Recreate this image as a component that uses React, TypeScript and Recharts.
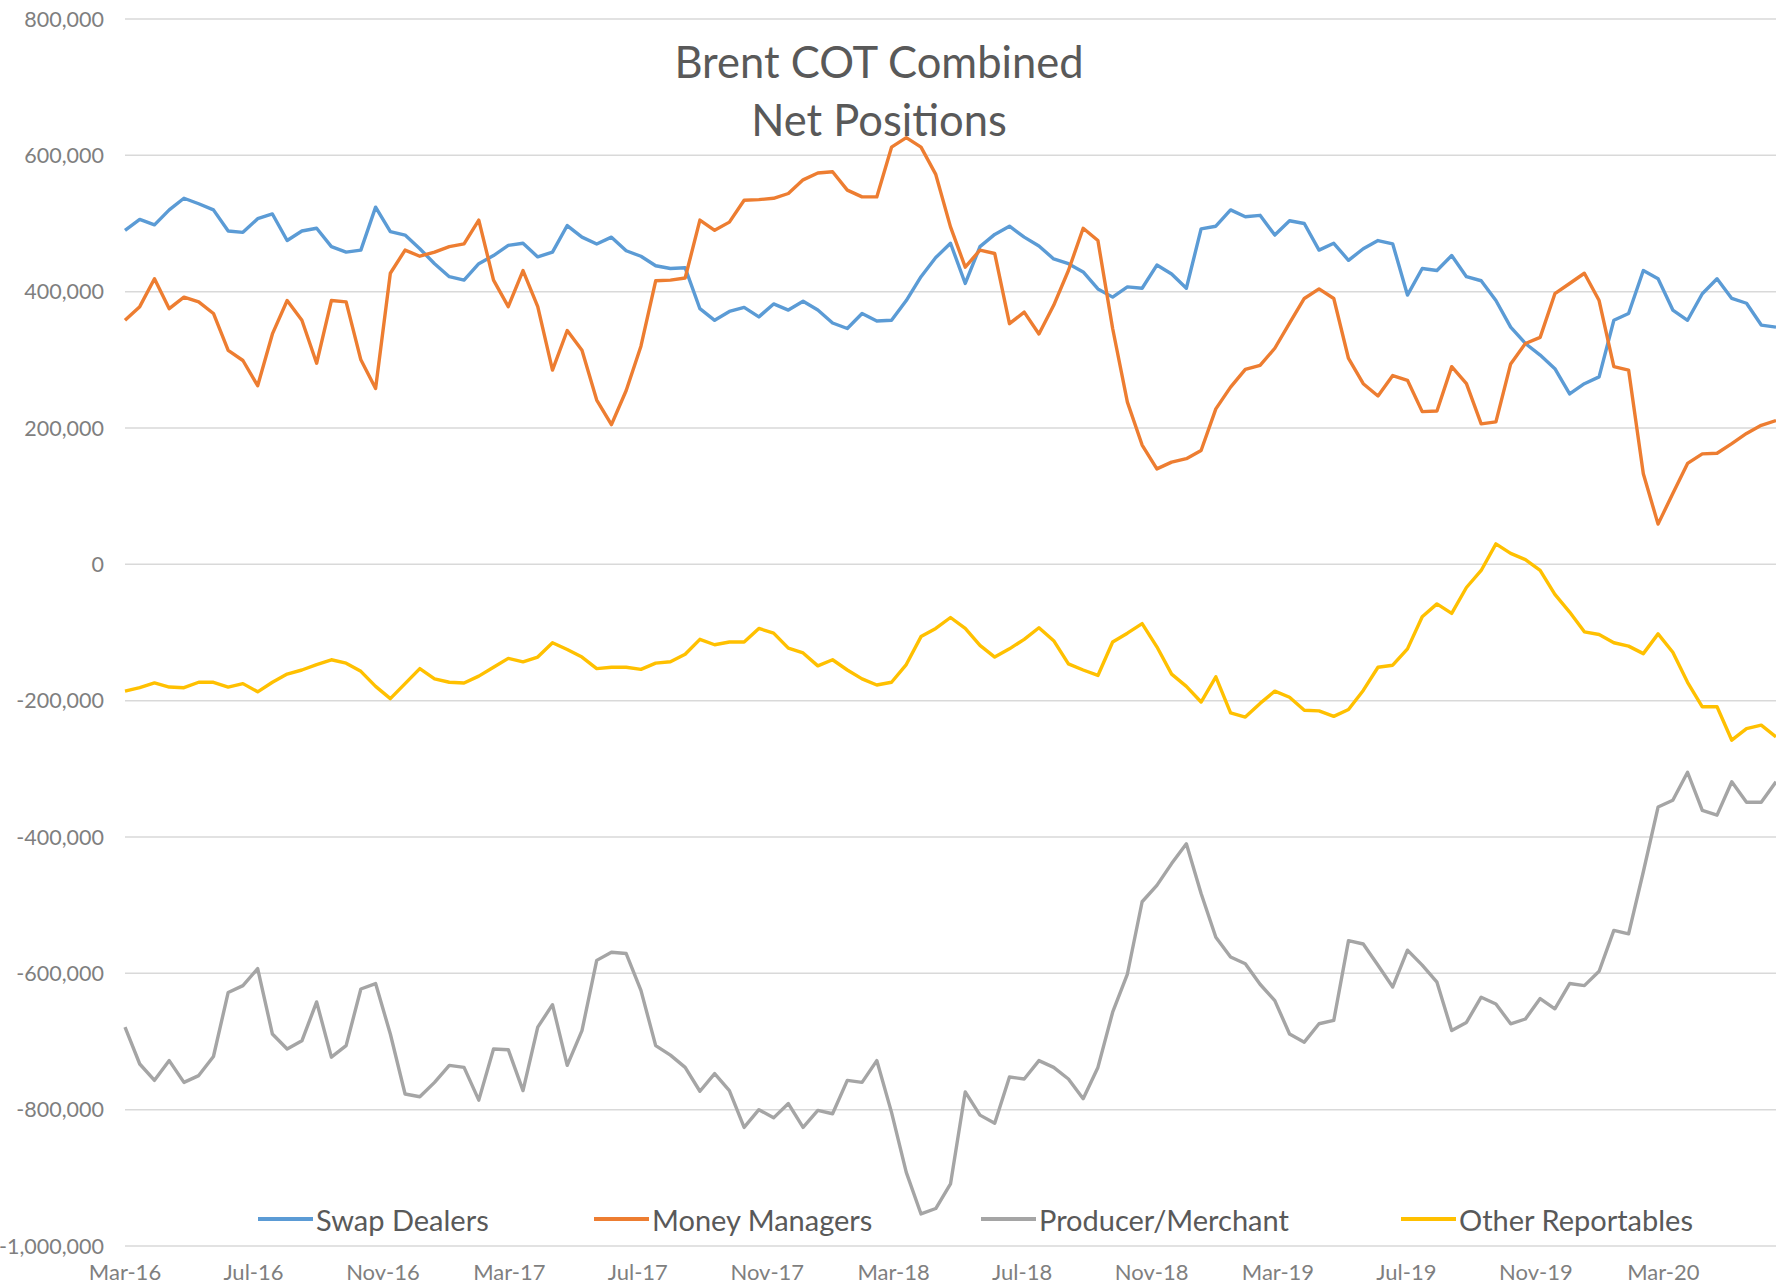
import { LineChart, Line, XAxis, YAxis, CartesianGrid } from "recharts";

// Brent COT combined net positions, thousands of contracts, sampled every 2 weeks from 1 Mar 2016
const swapDealers = [
  490, 506, 498, 520, 537, 529, 520, 489, 487, 507, 514, 475, 489, 493, 466, 458, 461, 524, 488, 483,
  463, 441, 422, 417, 441, 453, 468, 471, 451, 458, 497, 480, 470, 480, 460, 452, 438, 434, 435, 375,
  358, 371, 377, 363, 382, 373, 386, 373, 354, 346, 368, 357, 358, 387, 422, 450, 471, 412, 466, 484,
  496, 480, 467, 448, 441, 429, 404, 392, 407, 405, 439, 426, 405, 492, 496, 520, 510, 512, 483, 504,
  500, 461, 471, 446, 463, 475, 470, 395, 434, 431, 453, 422, 416, 387, 348, 324, 307, 287, 250, 265,
  275, 358, 368, 431, 419, 373, 358, 397, 419, 390, 383, 351, 348,
];

const moneyManagers = [
  358, 378, 419, 375, 392, 385, 368, 314, 299, 262, 338, 387, 358, 295, 387, 385, 300, 258, 427, 461,
  452, 458, 466, 470, 505, 417, 378, 431, 378, 285, 343, 314, 241, 205, 255, 320, 416, 417, 420, 505,
  490, 502, 534, 535, 537, 544, 564, 574, 576, 549, 539, 539, 612, 626, 612, 572, 495, 436, 461, 456,
  353, 370, 338, 380, 431, 493, 475, 346, 238, 175, 140, 150, 155, 167, 228, 260, 286, 292, 317, 354,
  390, 404, 390, 302, 265, 247, 277, 270, 224, 225, 290, 265, 206, 209, 294, 324, 333, 397, 412, 427,
  387, 290, 285, 133, 59, 104, 148, 162, 163, 177, 192, 204, 211,
];

const producerMerchant = [
  -679, -733, -757, -728, -760, -750, -722, -628, -618, -593, -689, -711, -699, -642, -723, -706, -623, -615, -689, -777,
  -781, -760, -735, -738, -786, -711, -712, -772, -679, -646, -735, -684, -581, -569, -571, -625, -706, -720, -738, -773,
  -747, -772, -826, -800, -812, -791, -826, -801, -806, -757, -760, -728, -804, -892, -953, -945, -909, -774, -808, -820,
  -752, -755, -728, -738, -755, -784, -738, -657, -601, -495, -471, -439, -410, -483, -547, -576, -586, -616, -640, -689,
  -701, -674, -669, -552, -557, -588, -620, -566, -588, -613, -684, -672, -635, -645, -674, -667, -637, -652, -615, -618,
  -597, -537, -542, -451, -356, -346, -305, -361, -368, -319, -349, -349, -319,
];

const otherReportables = [
  -186, -181, -174, -180, -181, -173, -173, -180, -175, -187, -173, -161, -155, -147, -140, -145, -157, -179, -197, -175,
  -153, -168, -173, -174, -164, -151, -138, -143, -136, -115, -125, -136, -153, -151, -151, -154, -145, -143, -132, -110,
  -118, -114, -114, -94, -101, -123, -130, -149, -140, -155, -168, -177, -173, -147, -106, -94, -78, -94, -119, -136,
  -124, -110, -93, -112, -146, -155, -163, -114, -101, -87, -121, -161, -179, -202, -165, -218, -224, -204, -186, -195,
  -214, -215, -223, -213, -185, -151, -148, -124, -77, -58, -72, -34, -9, 30, 16, 7, -9, -44, -70, -99,
  -103, -115, -120, -131, -102, -129, -173, -209, -209, -258, -241, -236, -253,
];

const tickDates = [
  "2016-03-01", "2016-07-01", "2016-11-01", "2017-03-01", "2017-07-01", "2017-11-01", "2018-03-01",
  "2018-07-01", "2018-11-01", "2019-03-01", "2019-07-01", "2019-11-01", "2020-03-01",
];
const tickLabels = [
  "Mar-16", "Jul-16", "Nov-16", "Mar-17", "Jul-17", "Nov-17", "Mar-18",
  "Jul-18", "Nov-18", "Mar-19", "Jul-19", "Nov-19", "Mar-20",
];
const yTicks = [800, 600, 400, 200, 0, -200, -400, -600, -800, -1000];

const DAY = 86400000;
const START = Date.UTC(2016, 2, 1);
const xTicks = tickDates.map((d) => Date.parse(d + "T00:00:00Z"));

const chartData = swapDealers.map((v, i) => ({
  t: START + i * 14 * DAY,
  swap: v,
  money: moneyManagers[i],
  producer: producerMerchant[i],
  other: otherReportables[i],
}));

const series = [
  { key: "swap", name: "Swap Dealers", color: "#5b9bd5", left: 258 },
  { key: "money", name: "Money Managers", color: "#ed7d31", left: 594 },
  { key: "producer", name: "Producer/Merchant", color: "#a5a5a5", left: 981 },
  { key: "other", name: "Other Reportables", color: "#ffc000", left: 1401 },
];

const FONT = "Lato, 'Open Sans', sans-serif";

export default function App() {
  return (
    <div
      style={{
        position: "absolute",
        left: 0,
        top: 0,
        width: 1776,
        height: 1285,
        background: "#fff",
        fontFamily: FONT,
        overflow: "hidden",
      }}
    >
      {/* title sits under the lines, like in the original */}
      <div
        style={{
          position: "absolute",
          left: 0,
          width: 1758,
          top: 32,
          textAlign: "center",
          fontSize: 43.5,
          lineHeight: "58px",
          color: "#595959",
        }}
      >
        Brent COT Combined
        <br />
        Net Positions
      </div>

      <div style={{ position: "absolute", left: 0, top: 0 }}>
        <LineChart width={1776} height={1285} data={chartData} margin={{ top: 19, right: 0, bottom: 0, left: 0 }}>
          <CartesianGrid vertical={false} stroke="#d9d9d9" strokeWidth={1.5} />
          <XAxis
            dataKey="t"
            type="number"
            domain={["dataMin", "dataMax"]}
            ticks={xTicks}
            tickFormatter={(v: number) => tickLabels[xTicks.indexOf(v)] ?? ""}
            axisLine={false}
            tickLine={false}
            tickSize={0}
            tickMargin={18}
            height={39}
            interval={0}
            tick={{ fontSize: 22, fill: "#7f7f7f", fontFamily: FONT }}
          />
          <YAxis
            type="number"
            domain={[-1000, 800]}
            ticks={yTicks}
            interval={0}
            tickFormatter={(v: number) => (v * 1000).toLocaleString("en-US")}
            axisLine={false}
            tickLine={false}
            tickSize={0}
            tickMargin={21}
            width={125}
            tick={{ fontSize: 21.5, fill: "#7f7f7f", fontFamily: FONT }}
          />
          {series.map((s) => (
            <Line
              key={s.key}
              dataKey={s.key}
              name={s.name}
              stroke={s.color}
              strokeWidth={3.4}
              dot={false}
              activeDot={false}
              strokeLinejoin="round"
              isAnimationActive={false}
            />
          ))}
        </LineChart>
      </div>

      {/* legend */}
      {series.map((s) => (
        <div
          key={s.key}
          style={{
            position: "absolute",
            left: s.left,
            top: 1202,
            height: 34,
            display: "flex",
            alignItems: "center",
            fontSize: 29,
            color: "#595959",
            whiteSpace: "nowrap",
          }}
        >
          <span style={{ display: "inline-block", width: 55, height: 3.4, background: s.color, marginRight: 3 }} />
          {s.name}
        </div>
      ))}
    </div>
  );
}
